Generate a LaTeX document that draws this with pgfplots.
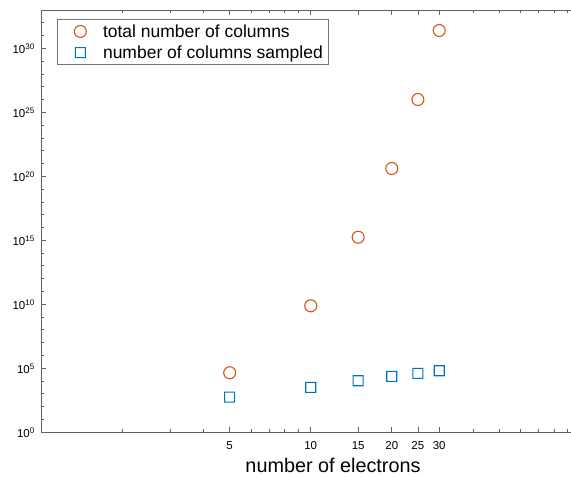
\documentclass[border=0pt]{standalone}
\usepackage{fontspec}
\setmainfont{Liberation Sans}
\usepackage{pgfplots}
\pgfplotsset{compat=1.18}
\definecolor{mOrange}{rgb}{0.85,0.325,0.098}
\definecolor{mBlue}{rgb}{0,0.447,0.741}
\definecolor{axgray}{gray}{0.38}
\pgfdeclareplotmark{bsq}{%
  \pgfsetfillcolor{mBlue}%
  \pgfseteorule
  \pgfpathrectangle{\pgfqpoint{-5.55pt}{-5.55pt}}{\pgfqpoint{11.1pt}{11.1pt}}%
  \pgfpathrectangle{\pgfqpoint{-4.45pt}{-4.45pt}}{\pgfqpoint{8.9pt}{8.9pt}}%
  \pgfusepathqfill}
\pgfdeclareplotmark{ocirc}{%
  \pgfsetstrokecolor{mOrange}%
  \pgfpathcircle{\pgfpointorigin}{\pgfplotmarksize}%
  \pgfusepathqstroke}
\begin{document}
\begin{tikzpicture}
\begin{axis}[
  scale only axis, width=538.5pt, height=422pt,
  xmode=log, ymode=log,
  xmin=1, xmax=100, ymin=1, ymax=1e33,
  xtick={5,10,15,20,25,30}, xticklabels={5,10,15,20,25,30},
  minor xtick={2,3,4,6,7,8,9,40,50,60,70,80,90},
  ytick={1,1e5,1e10,1e15,1e20,1e25,1e30},
  yticklabels={10\textsuperscript{0},10\textsuperscript{5},10\textsuperscript{10},10\textsuperscript{15},10\textsuperscript{20},10\textsuperscript{25},10\textsuperscript{30}},
  minor ytick={1e1,1e2,1e3,1e4,1e6,1e7,1e8,1e9,1e11,1e12,1e13,1e14,1e16,1e17,1e18,1e19,1e21,1e22,1e23,1e24,1e26,1e27,1e28,1e29,1e31,1e32},
  tick align=inside, major tick length=5pt, minor tick length=3pt,
  axis line style={axgray, line width=0.6pt},
  every tick/.style={axgray, line width=0.6pt},
  tick label style={font=\fontsize{11.5}{12}\selectfont, inner sep=0pt},
  xticklabel style={anchor=base, yshift=-17.9pt},
  yticklabel style={anchor=base east, xshift=-6.5pt, yshift=-5.5pt},
  xlabel={number of electrons},
  xlabel style={font=\fontsize{19.8}{20}\selectfont, at={(axis description cs:0.5413,0)}, anchor=base, yshift=-40.7pt, inner sep=0pt},
  legend image code/.code={\path[draw=none,fill=none] (0pt,-6pt) rectangle (39.8pt,6pt); \draw[mark repeat=2,mark phase=2,#1] plot coordinates {(0pt,0pt)(17.1pt,0pt)(39.8pt,0pt)};},
  legend style={at={(axis description cs:0.0293,0.9787)}, anchor=north west,
    draw=black!55, line width=0.7pt, inner xsep=5.6pt, inner ysep=5pt,
    row sep=7pt, column sep=0pt, nodes={inner sep=0pt},
    font=\fontsize{17.5}{18}\selectfont},
  legend cell align=left,
]
\addplot[only marks, mark=ocirc, mark size=6pt, color=mOrange, line width=1.1pt]
  coordinates {(5,4.3e4) (10,7.4e9) (15,1.7e15) (20,4e20) (25,1e26) (30,2.5e31)};
\addlegendentry{total number of columns}
\addplot[only marks, mark=bsq, mark size=5pt, color=mBlue, fill=mBlue]
  coordinates {(5,537) (10,3090) (15,1.02e4) (20,2.24e4) (25,3.8e4) (30,6.2e4)};
\addlegendentry{number of columns sampled}
\end{axis}
\pgfresetboundingbox
\path[use as bounding box] ([shift={(-41.5pt,-45pt)}]current axis.south west) rectangle ([shift={(529.5pt,432pt)}]current axis.south west);
\end{tikzpicture}
\end{document}
